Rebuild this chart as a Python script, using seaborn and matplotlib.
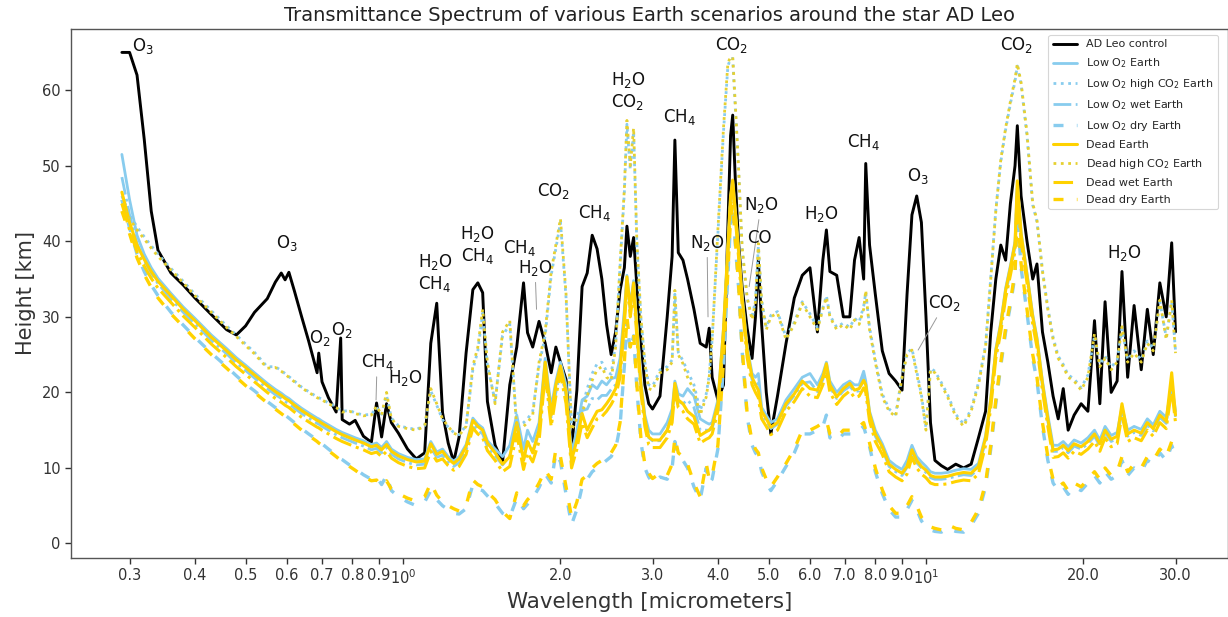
import matplotlib
matplotlib.use("Agg")
import matplotlib.pyplot as plt
from matplotlib.ticker import FixedLocator, FixedFormatter, NullLocator
import seaborn as sns
import pandas as pd

# ---------------- data ----------------
wavelength = [
    0.29, 0.30, 0.31, 0.32, 0.33, 0.34, 0.36, 0.38, 0.40, 0.43,
    0.46, 0.48, 0.50, 0.52, 0.55, 0.57, 0.585, 0.595, 0.605, 0.62,
    0.64, 0.66, 0.685, 0.69, 0.70, 0.72, 0.745, 0.76, 0.765, 0.79,
    0.81, 0.84, 0.87, 0.89, 0.91, 0.93, 0.95, 0.98, 1.02, 1.06,
    1.10, 1.13, 1.16, 1.19, 1.22, 1.25, 1.28, 1.32, 1.36, 1.39,
    1.42, 1.45, 1.50, 1.55, 1.60, 1.65, 1.70, 1.73, 1.77, 1.82,
    1.87, 1.92, 1.96, 2.00, 2.05, 2.10, 2.15, 2.20, 2.25, 2.30,
    2.35, 2.40, 2.45, 2.50, 2.55, 2.60, 2.65, 2.68, 2.72, 2.76,
    2.80, 2.85, 2.90, 2.95, 3.00, 3.10, 3.20, 3.27, 3.31, 3.36,
    3.43, 3.50, 3.60, 3.70, 3.80, 3.85, 3.90, 4.00, 4.10, 4.18,
    4.23, 4.27, 4.32, 4.38, 4.45, 4.55, 4.65, 4.72, 4.78, 4.85,
    4.95, 5.05, 5.20, 5.40, 5.60, 5.80, 6.00, 6.20, 6.35, 6.45,
    6.55, 6.75, 6.95, 7.15, 7.30, 7.45, 7.60, 7.67, 7.80, 8.00,
    8.25, 8.50, 8.75, 9.00, 9.20, 9.40, 9.60, 9.80, 10.0, 10.2,
    10.4, 10.7, 11.0, 11.4, 11.8, 12.2, 12.6, 13.0, 13.3, 13.6,
    13.9, 14.2, 14.5, 14.8, 14.95, 15.2, 15.6, 16.0, 16.3, 16.7,
    17.1, 17.5, 17.9, 18.3, 18.7, 19.2, 19.8, 20.4, 21.0, 21.5,
    22.0, 22.6, 23.2, 23.7, 24.3, 25.0, 25.8, 26.5, 27.2, 28.0,
    28.8, 29.5, 30.0,
]

ad_leo_control = [
    65.0, 65.0, 62.0, 53.5, 44.0, 38.8, 35.8, 34.2, 32.5, 30.3,
    28.3, 27.6, 28.8, 30.6, 32.4, 34.6, 35.8, 34.9, 35.9, 33.4,
    30.0, 26.8, 22.6, 25.2, 21.4, 19.3, 17.4, 27.2, 16.4, 15.8,
    16.3, 14.2, 13.4, 18.6, 14.1, 18.5, 16.0, 14.6, 12.5, 11.2,
    12.0, 26.5, 31.8, 17.3, 13.3, 10.8, 14.1, 25.2, 33.6, 34.5,
    33.2, 18.8, 13.0, 10.8, 21.0, 26.0, 34.5, 27.9, 26.0, 29.4,
    26.5, 22.6, 26.0, 24.0, 21.7, 12.4, 20.3, 34.0, 35.8, 40.8,
    39.0, 35.0, 29.0, 25.0, 28.0, 33.5, 36.5, 42.0, 38.0, 40.5,
    34.0, 27.0, 21.0, 18.5, 17.8, 19.5, 30.0, 38.0, 53.4, 38.5,
    37.5, 35.0, 31.0, 26.5, 26.0, 28.5, 22.0, 19.0, 21.0, 42.0,
    54.0, 56.7, 48.0, 40.0, 34.0, 28.5, 24.5, 30.0, 37.5, 29.0,
    20.0, 14.5, 19.5, 26.5, 32.5, 35.5, 36.5, 28.0, 37.5, 41.5,
    36.0, 35.5, 30.0, 30.0, 37.5, 40.5, 35.0, 50.3, 39.5, 33.0,
    25.5, 22.5, 21.5, 20.3, 33.0, 43.5, 46.0, 42.5, 30.0, 16.0,
    11.0, 10.3, 9.8, 10.5, 10.0, 10.5, 14.0, 17.5, 28.0, 35.0,
    39.5, 37.5, 45.0, 50.0, 55.3, 46.0, 40.0, 35.0, 37.0, 28.0,
    24.0, 19.5, 16.5, 20.5, 15.0, 17.0, 18.5, 17.5, 29.5, 18.5,
    32.0, 20.0, 21.5, 36.0, 22.0, 31.5, 23.0, 31.0, 25.0, 34.5,
    30.0, 39.8, 28.0,
]

low_o2_earth = [
    51.5, 45.5, 40.8, 38.3, 36.5, 35.1, 33.1, 31.3, 29.8, 27.6,
    25.8, 24.6, 23.6, 22.6, 21.2, 20.4, 19.9, 19.5, 19.2, 18.6,
    17.9, 17.3, 16.6, 16.5, 16.2, 15.7, 15.1, 14.8, 14.7, 14.3,
    14.0, 13.6, 13.1, 13.3, 12.7, 13.5, 12.5, 11.9, 11.4, 11.1,
    11.2, 13.5, 12.1, 12.5, 11.5, 10.9, 11.5, 13.1, 16.6, 15.8,
    15.3, 13.6, 12.5, 11.5, 13.0, 17.0, 12.5, 15.0, 13.5, 16.0,
    24.5, 18.0, 21.5, 24.0, 21.0, 12.0, 15.0, 19.0, 19.5, 21.0,
    20.5, 21.5, 21.0, 21.8, 22.0, 24.5, 31.0, 35.5, 31.5, 34.8,
    28.8, 21.5, 17.0, 15.0, 14.5, 14.5, 16.0, 17.8, 21.5, 19.8,
    19.5, 20.5, 19.5, 16.5, 16.0, 15.8, 16.0, 19.0, 28.5, 39.5,
    46.0, 48.0, 44.0, 39.0, 33.0, 26.0, 22.5, 22.0, 22.5, 18.0,
    17.0, 16.0, 16.5, 19.0, 20.5, 22.0, 22.5, 21.0, 22.5, 24.0,
    21.5, 20.0, 21.0, 21.5, 21.0, 21.0, 22.8, 21.5, 17.5, 15.0,
    13.2, 11.0, 10.3, 9.8, 11.0, 13.0, 11.5, 10.8, 10.2, 9.5,
    9.3, 9.3, 9.4, 9.7, 9.9, 9.8, 10.6, 14.3, 19.3, 25.8,
    29.3, 33.8, 36.8, 40.0, 47.5, 41.2, 35.8, 30.3, 27.3, 21.5,
    17.0, 13.0, 13.0, 13.5, 12.8, 13.7, 13.3, 14.0, 15.0, 13.7,
    15.5, 14.3, 14.7, 18.0, 15.0, 15.5, 15.1, 16.5, 15.7, 17.5,
    16.7, 21.0, 17.5,
]

low_o2_high_co2 = [
    46.0, 43.6, 41.9, 40.6, 39.4, 38.3, 36.4, 34.7, 33.0, 30.8,
    28.8, 27.6, 26.4, 25.3, 23.4, 23.4, 22.9, 22.5, 22.1, 21.5,
    20.7, 20.1, 19.4, 19.3, 19.1, 18.6, 18.1, 17.6, 17.5, 17.6,
    17.3, 17.0, 17.1, 18.0, 17.1, 19.6, 16.6, 15.6, 15.3, 15.1,
    15.6, 20.2, 18.3, 16.4, 15.4, 14.7, 14.4, 15.6, 23.0, 25.5,
    30.5, 23.6, 18.8, 27.5, 29.0, 15.5, 16.0, 16.5, 17.5, 23.5,
    27.5, 35.5, 39.0, 42.5, 32.5, 15.8, 17.0, 18.0, 20.5, 22.5,
    23.8, 24.0, 22.8, 22.4, 26.5, 36.5, 46.5, 55.5, 49.5, 54.5,
    39.5, 29.8, 24.0, 21.0, 20.8, 23.0, 23.4, 24.3, 33.0, 25.3,
    24.2, 22.8, 21.0, 17.6, 19.8, 22.3, 27.0, 41.0, 54.5, 63.2,
    64.2, 64.2, 57.6, 49.6, 39.0, 32.4, 29.8, 32.3, 39.3, 32.2,
    28.6, 30.2, 30.7, 27.3, 29.3, 32.0, 30.4, 28.6, 31.2, 32.8,
    30.2, 28.6, 29.2, 28.6, 29.8, 29.3, 31.4, 33.2, 28.6, 24.3,
    19.8, 17.8, 17.1, 22.2, 25.2, 25.8, 22.8, 19.7, 15.3, 23.2,
    22.8, 21.3, 19.7, 17.1, 15.8, 17.8, 21.3, 26.3, 35.2, 44.2,
    50.5, 54.8, 58.2, 61.2, 63.2, 60.8, 54.0, 44.8, 42.6, 36.2,
    31.2, 27.3, 24.8, 23.7, 22.3, 21.8, 20.6, 22.3, 27.5, 23.7,
    24.8, 23.3, 24.3, 28.4, 24.3, 25.5, 24.3, 26.8, 25.8, 32.0,
    27.3, 32.0, 25.5,
]

low_o2_wet = [
    48.5, 43.5, 39.7, 37.4, 35.8, 34.4, 32.4, 30.6, 29.1, 26.9,
    25.1, 23.9, 22.9, 21.9, 20.5, 19.7, 19.2, 18.8, 18.5, 17.9,
    17.2, 16.6, 15.9, 15.8, 15.5, 15.0, 14.4, 14.1, 14.0, 13.6,
    13.3, 12.9, 12.4, 12.6, 12.0, 12.7, 11.8, 11.2, 10.7, 10.4,
    10.5, 12.7, 11.4, 11.7, 10.8, 10.2, 10.7, 12.3, 15.8, 15.0,
    14.5, 12.8, 11.6, 10.4, 11.6, 15.6, 11.0, 13.6, 12.2, 14.6,
    23.0, 16.6, 20.0, 23.0, 19.6, 10.8, 13.8, 17.6, 17.8, 19.2,
    19.0, 19.6, 19.6, 20.4, 21.0, 23.2, 30.0, 34.8, 30.8, 34.0,
    27.8, 20.6, 16.2, 14.0, 13.6, 13.6, 15.0, 17.0, 20.8, 18.8,
    18.5, 19.0, 18.0, 15.0, 15.0, 15.0, 15.2, 18.2, 27.8, 38.8,
    45.5, 47.5, 43.5, 38.5, 32.3, 25.3, 21.7, 21.0, 21.2, 17.2,
    16.2, 15.2, 15.8, 18.2, 19.6, 21.2, 21.4, 20.1, 21.7, 23.4,
    20.7, 19.2, 20.2, 20.8, 20.1, 20.2, 22.0, 20.7, 16.8, 14.2,
    12.5, 10.2, 9.5, 9.0, 10.1, 12.2, 10.7, 10.0, 9.4, 8.7,
    8.5, 8.5, 8.6, 8.9, 9.1, 9.0, 9.9, 13.6, 18.6, 25.1,
    28.6, 33.1, 36.1, 39.3, 47.0, 40.6, 35.1, 29.6, 26.6, 20.8,
    16.2, 12.2, 12.2, 12.7, 12.0, 12.9, 12.5, 13.2, 14.2, 12.9,
    14.7, 13.5, 13.9, 17.5, 14.2, 14.7, 14.3, 15.7, 14.9, 16.7,
    15.9, 20.7, 16.7,
]

low_o2_dry = [
    45.5, 41.8, 38.3, 36.0, 34.2, 32.8, 30.6, 28.9, 27.3, 25.2,
    23.4, 22.2, 21.1, 20.2, 18.8, 18.0, 17.4, 17.0, 16.6, 16.0,
    15.2, 14.5, 13.7, 13.5, 13.2, 12.5, 11.7, 11.2, 11.1, 10.4,
    9.9, 9.1, 8.5, 8.8, 7.8, 9.0, 7.0, 6.2, 5.5, 5.0,
    5.5, 7.0, 5.8, 5.0, 4.5, 4.0, 3.9, 4.6, 7.8, 7.2,
    7.0, 6.3, 5.3, 4.0, 3.5, 6.0, 4.6, 5.2, 6.0, 7.4,
    9.2, 8.0, 12.0, 10.8, 6.5, 2.5, 4.5, 7.5, 8.5, 9.5,
    10.0, 10.5, 11.0, 11.5, 12.5, 15.5, 23.5, 29.5, 25.5, 27.5,
    20.5, 13.5, 10.0, 8.8, 8.0, 8.8, 8.5, 10.0, 13.5, 11.5,
    11.0, 10.0, 7.5, 5.8, 10.0, 8.0, 8.5, 12.5, 23.5, 35.5,
    42.5, 44.5, 39.5, 34.0, 25.5, 16.8, 13.0, 12.0, 11.5, 9.5,
    8.0, 7.0, 8.3, 10.2, 12.0, 14.5, 14.5, 15.0, 15.5, 17.0,
    14.0, 13.5, 14.5, 14.5, 14.5, 15.0, 15.5, 14.5, 12.8, 9.5,
    6.6, 4.5, 3.5, 3.5, 4.5, 5.7, 4.5, 3.0, 2.2, 1.8,
    1.6, 1.5, 2.0, 1.6, 1.5, 2.4, 4.0, 7.5, 12.5, 18.5,
    23.5, 28.0, 31.5, 35.5, 44.0, 36.5, 30.5, 24.5, 21.5, 15.5,
    11.0, 8.0, 7.0, 7.5, 6.5, 7.5, 7.0, 8.0, 9.0, 8.0,
    9.5, 8.5, 9.0, 11.0, 9.0, 10.0, 9.5, 11.0, 10.5, 12.0,
    11.0, 13.0, 11.5,
]

dead_earth = [
    46.5, 42.5, 39.5, 37.6, 36.0, 34.7, 32.8, 31.0, 29.5, 27.3,
    25.5, 24.3, 23.3, 22.3, 20.9, 20.1, 19.6, 19.2, 18.9, 18.3,
    17.6, 17.0, 16.3, 16.2, 15.9, 15.4, 14.8, 14.5, 14.4, 14.0,
    13.7, 13.3, 12.8, 13.0, 12.4, 13.1, 12.2, 11.6, 11.1, 10.8,
    10.9, 13.2, 11.8, 12.2, 11.2, 10.6, 11.2, 12.8, 16.3, 15.5,
    15.0, 13.3, 12.0, 10.5, 11.5, 16.0, 11.0, 13.5, 12.0, 15.0,
    24.0, 17.0, 21.0, 23.5, 20.0, 11.0, 13.7, 17.2, 15.0, 16.3,
    17.5, 17.7, 18.5, 19.4, 20.5, 23.0, 30.0, 35.3, 31.0, 34.5,
    28.3, 21.0, 16.5, 14.1, 13.7, 13.7, 15.0, 17.0, 21.2, 19.0,
    18.5, 17.5, 16.8, 14.3, 14.8, 15.0, 15.5, 18.5, 28.3, 39.3,
    46.0, 48.1, 44.0, 39.0, 32.6, 25.6, 22.0, 21.0, 20.3, 17.5,
    16.5, 15.4, 16.0, 18.5, 19.8, 21.5, 20.5, 20.3, 22.0, 23.8,
    21.0, 19.4, 20.5, 21.2, 20.3, 20.5, 21.6, 21.0, 17.2, 14.5,
    12.8, 10.5, 9.8, 9.3, 10.2, 12.4, 11.0, 10.2, 9.7, 9.0,
    8.8, 8.8, 8.9, 9.2, 9.4, 9.3, 10.2, 14.0, 19.0, 25.5,
    29.0, 33.5, 36.5, 39.7, 48.0, 41.0, 35.5, 30.0, 27.0, 21.2,
    16.5, 12.4, 12.5, 13.0, 12.3, 13.2, 12.8, 13.5, 14.5, 13.2,
    15.0, 13.8, 14.2, 18.5, 14.5, 15.0, 14.6, 16.0, 15.2, 17.0,
    16.2, 22.6, 17.0,
]

dead_high_co2 = [
    45.0, 43.0, 41.5, 40.3, 39.1, 38.0, 36.2, 34.5, 32.8, 30.6,
    28.6, 27.4, 26.2, 25.1, 23.2, 23.3, 22.8, 22.4, 22.0, 21.4,
    20.6, 20.0, 19.3, 19.2, 19.0, 18.5, 18.0, 17.5, 17.4, 17.5,
    17.2, 16.9, 17.0, 18.2, 17.0, 20.0, 16.5, 15.5, 15.2, 15.0,
    15.5, 20.5, 18.5, 16.5, 15.5, 14.6, 14.3, 15.5, 23.5, 26.0,
    31.0, 24.0, 18.5, 28.0, 29.5, 15.0, 15.5, 16.0, 17.0, 24.0,
    28.0, 36.0, 39.5, 43.0, 33.0, 15.0, 16.5, 17.2, 19.5, 21.6,
    23.0, 23.4, 22.0, 21.6, 26.0, 37.0, 47.0, 56.0, 50.0, 55.0,
    40.0, 30.0, 23.8, 20.5, 20.3, 22.6, 23.0, 24.0, 33.5, 25.0,
    23.8, 22.0, 20.3, 17.0, 19.4, 22.0, 26.9, 41.5, 55.0, 63.6,
    64.4, 64.4, 58.0, 50.0, 39.3, 32.6, 29.6, 32.0, 39.7, 32.0,
    28.3, 30.0, 30.5, 27.0, 29.0, 31.8, 30.0, 28.3, 31.0, 32.6,
    30.0, 28.3, 29.0, 28.3, 29.6, 29.0, 31.0, 33.5, 28.3, 24.0,
    19.4, 17.5, 16.8, 22.0, 25.0, 25.6, 22.5, 19.4, 15.0, 23.0,
    22.6, 21.0, 19.4, 16.8, 15.5, 17.5, 21.0, 26.0, 35.0, 44.0,
    50.8, 55.0, 58.5, 61.5, 63.5, 61.0, 54.3, 45.0, 42.8, 36.0,
    31.0, 27.0, 24.5, 23.4, 22.0, 21.5, 20.3, 22.0, 27.8, 23.4,
    24.5, 23.0, 24.0, 28.7, 24.0, 25.2, 24.0, 26.5, 25.5, 32.2,
    27.0, 32.2, 25.2,
]

dead_wet = [
    45.0, 41.5, 38.6, 36.7, 35.1, 33.8, 31.9, 30.1, 28.6, 26.4,
    24.6, 23.4, 22.4, 21.4, 20.0, 19.2, 18.7, 18.3, 18.0, 17.4,
    16.7, 16.1, 15.4, 15.3, 15.0, 14.5, 13.9, 13.6, 13.5, 13.1,
    12.8, 12.4, 11.9, 12.1, 11.5, 12.2, 11.3, 10.7, 10.2, 9.9,
    10.0, 12.2, 10.9, 11.2, 10.3, 9.7, 10.2, 11.8, 15.3, 14.5,
    14.0, 12.3, 11.0, 9.5, 10.2, 14.5, 9.8, 12.0, 10.8, 13.5,
    22.5, 15.5, 19.5, 22.5, 18.5, 10.0, 12.5, 16.0, 14.0, 15.3,
    16.5, 16.8, 17.5, 18.4, 19.5, 22.0, 29.0, 34.3, 30.0, 33.5,
    27.3, 20.0, 15.5, 13.1, 12.7, 12.7, 14.0, 16.0, 20.2, 18.0,
    17.5, 16.5, 15.8, 13.3, 13.8, 14.0, 14.5, 17.5, 27.3, 38.3,
    45.0, 47.0, 43.0, 38.0, 31.6, 24.6, 21.0, 20.0, 19.3, 16.5,
    15.5, 14.4, 15.0, 17.5, 18.8, 20.5, 19.5, 19.3, 21.0, 22.8,
    20.0, 18.4, 19.5, 20.2, 19.3, 19.5, 20.6, 20.0, 16.2, 13.5,
    11.8, 9.5, 8.8, 8.3, 9.2, 11.4, 10.0, 9.2, 8.7, 8.0,
    7.8, 7.8, 7.9, 8.2, 8.4, 8.3, 9.2, 13.0, 18.0, 24.5,
    28.0, 32.5, 35.5, 38.7, 46.5, 40.0, 34.5, 29.0, 26.0, 20.2,
    15.5, 11.4, 11.5, 12.0, 11.3, 12.2, 11.8, 12.5, 13.5, 12.2,
    14.0, 12.8, 13.2, 17.0, 13.5, 14.0, 13.6, 15.0, 14.2, 16.0,
    15.2, 20.5, 16.0,
]

dead_dry = [
    44.0, 41.0, 37.8, 35.6, 33.9, 32.5, 30.4, 28.7, 27.1, 25.0,
    23.2, 22.0, 20.9, 20.0, 18.6, 17.8, 17.2, 16.8, 16.4, 15.8,
    15.0, 14.3, 13.5, 13.3, 13.0, 12.3, 11.5, 11.0, 10.9, 10.2,
    9.7, 8.9, 8.3, 8.4, 7.6, 8.3, 7.2, 6.6, 6.0, 5.6,
    6.2, 8.0, 6.4, 5.5, 5.0, 4.6, 4.3, 5.0, 8.4, 7.8,
    7.5, 6.8, 5.8, 4.2, 3.3, 6.7, 5.0, 5.8, 6.5, 8.0,
    9.7, 8.5, 12.5, 11.5, 7.5, 3.5, 5.5, 8.5, 9.0, 10.0,
    10.6, 11.0, 11.5, 12.0, 13.0, 16.0, 24.0, 30.0, 26.0, 28.0,
    21.0, 14.0, 10.5, 9.3, 8.6, 9.3, 9.0, 10.5, 14.0, 12.0,
    11.5, 10.5, 8.0, 6.2, 10.6, 8.5, 9.0, 13.0, 24.0, 36.0,
    43.0, 45.0, 40.0, 34.5, 26.0, 17.2, 13.5, 12.5, 12.0, 10.0,
    8.5, 7.5, 8.8, 10.6, 12.5, 15.0, 15.0, 15.5, 16.0, 16.3,
    14.5, 14.0, 15.0, 15.0, 15.0, 15.5, 16.0, 15.0, 13.3, 10.0,
    7.1, 5.0, 4.0, 4.0, 5.0, 6.2, 5.0, 3.5, 2.7, 2.2,
    2.0, 1.8, 2.5, 2.0, 1.8, 2.8, 4.5, 8.0, 13.0, 19.0,
    24.0, 28.5, 32.0, 36.0, 44.5, 37.0, 31.0, 25.0, 22.0, 16.0,
    11.5, 8.5, 7.5, 8.0, 7.0, 8.0, 7.5, 8.5, 9.5, 8.5,
    10.0, 9.0, 9.5, 11.5, 9.5, 10.5, 10.0, 11.5, 11.0, 12.5,
    11.5, 13.5, 12.0,
]

series_names = [
    "AD Leo control",
    "Low O$_2$ Earth",
    "Low O$_2$ high CO$_2$ Earth",
    "Low O$_2$ wet Earth",
    "Low O$_2$ dry Earth",
    "Dead Earth",
    "Dead high CO$_2$ Earth",
    "Dead wet Earth",
    "Dead dry Earth",
]
series_values = [
    ad_leo_control, low_o2_earth, low_o2_high_co2, low_o2_wet, low_o2_dry,
    dead_earth, dead_high_co2, dead_wet, dead_dry,
]

tick_values = [0.3, 0.4, 0.5, 0.6, 0.7, 0.8, 0.9, 1.0, 2.0, 3.0, 4.0, 5.0,
               6.0, 7.0, 8.0, 9.0, 10.0, 20.0, 30.0]
tick_labels = ["0.3", "0.4", "0.5", "0.6", "0.7", "0.8", "0.9", "$10^{0}$",
               "2.0", "3.0", "4.0", "5.0", "6.0", "7.0", "8.0", "9.0",
               "$10^{1}$", "20.0", "30.0"]

# molecule annotations: (label, text x, text y, leader-line target or None)
annotations = [
    ("O$_3$", 0.318, 65.9, None),
    ("O$_3$", 0.600, 39.8, None),
    ("O$_2$", 0.694, 27.2, None),
    ("O$_2$", 0.765, 28.3, None),
    ("CH$_4$", 0.892, 24.0, (0.888, 19.0)),
    ("H$_2$O", 1.009, 21.9, None),
    ("H$_2$O\nCH$_4$", 1.151, 35.8, None),
    ("H$_2$O\nCH$_4$", 1.385, 39.5, None),
    ("CH$_4$", 1.673, 39.1, None),
    ("H$_2$O", 1.788, 36.5, (1.80, 31.0)),
    ("CO$_2$", 1.944, 46.7, None),
    ("CH$_4$", 2.319, 43.7, None),
    ("H$_2$O\nCO$_2$", 2.693, 59.9, None),
    ("CH$_4$", 3.372, 56.4, None),
    ("N$_2$O", 3.814, 39.8, (3.83, 30.0)),
    ("CO$_2$", 4.256, 66.0, None),
    ("N$_2$O", 4.836, 44.8, (4.59, 34.0)),
    ("CO", 4.810, 40.4, None),
    ("H$_2$O", 6.298, 43.6, None),
    ("CH$_4$", 7.610, 53.1, None),
    ("O$_3$", 9.654, 48.6, None),
    ("CO$_2$", 10.87, 31.8, (9.66, 25.6)),
    ("CO$_2$", 14.93, 66.0, None),
    ("H$_2$O", 23.9, 38.5, None),
]

for v in series_values:
    assert len(v) == len(wavelength), len(v)

# ---------------- styling ----------------
sns.set_theme(style="ticks")
plt.rcParams["font.family"] = ["DejaVu Sans"]

BLUE = "#88CCEE"
GOLD = "#FFD200"
styles = [
    dict(color="black", linestyle="-", linewidth=2.1),
    dict(color=BLUE, linestyle="-", linewidth=2.0),
    dict(color=BLUE, linestyle=":", linewidth=2.0),
    dict(color=BLUE, linestyle="-.", linewidth=2.0),
    dict(color=BLUE, linestyle=(0, (3, 4)), linewidth=2.4),
    dict(color=GOLD, linestyle="-", linewidth=2.2),
    dict(color="#E6D030", linestyle=":", linewidth=2.0),
    dict(color=GOLD, linestyle="-.", linewidth=2.2),
    dict(color=GOLD, linestyle=(0, (3, 4)), linewidth=2.4),
]

fig = plt.figure(figsize=(12.28, 6.17), dpi=100)
ax = fig.add_axes([71 / 1228, 1 - 557.7 / 617, (1228 - 71) / 1228, (557.7 - 29) / 617])

df = pd.DataFrame({"wavelength": wavelength})
for name, vals, st in zip(series_names, series_values, styles):
    df["h"] = vals
    sns.lineplot(data=df, x="wavelength", y="h", ax=ax, sort=False,
                 estimator=None, label=name, **st)

ax.set_xscale("log")
ax.set_xlim(0.2318, 37.8)
ax.set_ylim(-1.88, 68.1)
ax.xaxis.set_major_locator(FixedLocator(tick_values))
ax.xaxis.set_major_formatter(FixedFormatter(tick_labels))
ax.xaxis.set_minor_locator(NullLocator())
ax.set_yticks([0, 10, 20, 30, 40, 50, 60])
ax.tick_params(axis="both", labelsize=10.5, colors="#333333", length=4,
               width=1)

for sp in ax.spines.values():
    sp.set_color("#555555")
    sp.set_linewidth(1.0)

ax.set_title("Transmittance Spectrum of various Earth scenarios around the star AD Leo",
             fontsize=14, color="#222222", pad=6)
ax.set_xlabel("Wavelength [micrometers]", fontsize=15.4, color="#333333")
ax.set_ylabel("Height [km]", fontsize=15, color="#333333")

for label, tx, ty, target in annotations:
    if target is None:
        ax.text(tx, ty, label, ha="center", va="center", fontsize=12,
                color="#111111", linespacing=1.1)
    else:
        ax.annotate(label, xy=target, xytext=(tx, ty), ha="center",
                    va="center", fontsize=12, color="#111111",
                    arrowprops=dict(arrowstyle="-", color="#999999", lw=0.7,
                                    shrinkA=1, shrinkB=0))

leg = ax.legend(loc="upper right", bbox_to_anchor=(1 - 10 / 1157, 1 - 6 / 528.7),
                borderaxespad=0, fontsize=8, labelspacing=0.63,
                handlelength=2.2, frameon=True, fancybox=True)
leg.get_frame().set_edgecolor("#cccccc")
leg.get_frame().set_linewidth(0.8)

fig.savefig("out.png", dpi=100)
